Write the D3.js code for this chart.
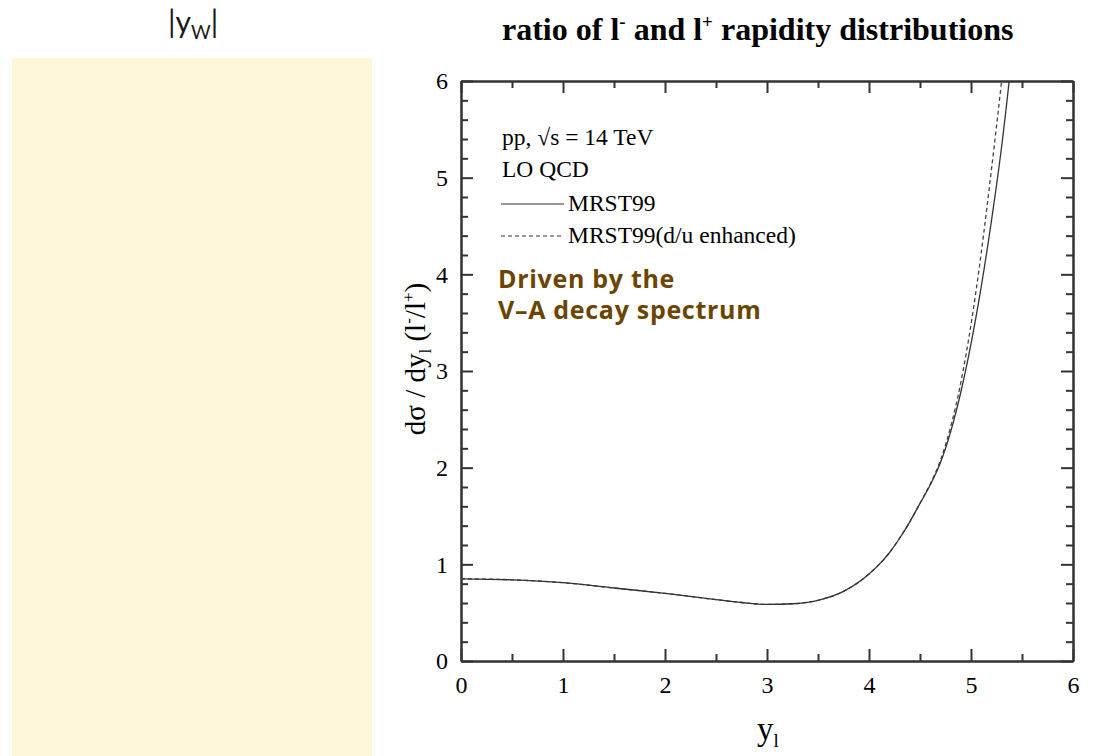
<!DOCTYPE html>
<html>
<head>
<meta charset="utf-8">
<script src="https://cdn.jsdelivr.net/npm/d3@7"></script>
<style>
  html, body { margin: 0; padding: 0; background: #ffffff; }
  svg { display: block; }
</style>
</head>
<body>
<svg id="chart" width="1111" height="756"></svg>
<script>
// ---- data ----
const rapidity = [0, 0.5, 1, 1.5, 2, 2.5, 2.75, 3, 3.25, 3.5, 3.75, 4, 4.1, 4.2, 4.3, 4.4, 4.5, 4.6, 4.7, 4.8, 4.9, 5.0, 5.1, 5.2, 5.3, 5.4, 5.5];
const mrst99 =   [0.85, 0.84, 0.81, 0.755, 0.70, 0.635, 0.605, 0.585, 0.592, 0.628, 0.72, 0.90, 1.00, 1.12, 1.27, 1.44, 1.63, 1.82, 2.05, 2.37, 2.78, 3.28, 3.87, 4.55, 5.32, 6.25, 7.30];
const mrst99du = [0.85, 0.84, 0.81, 0.755, 0.70, 0.635, 0.605, 0.585, 0.592, 0.628, 0.72, 0.90, 1.00, 1.12, 1.27, 1.44, 1.632, 1.832, 2.075, 2.42, 2.88, 3.48, 4.22, 5.08, 6.00, 7.00, 8.10];
const xTicks = [0, 1, 2, 3, 4, 5, 6];
const yTicks = [0, 1, 2, 3, 4, 5, 6];
const legendItems = ["MRST99", "MRST99(d/u enhanced)"];

const svg = d3.select("#chart");

// left yellow panel
svg.append("rect").attr("x", 12).attr("y", 58).attr("width", 360).attr("height", 700).attr("fill", "#fff6d8");

// |y_W| label
const yw = svg.append("text").attr("x", 168).attr("y", 33)
  .attr("font-family", "Lato, 'Open Sans', sans-serif").attr("font-size", 30).attr("fill", "#1a1a1a");
yw.append("tspan").text("|y");
yw.append("tspan").attr("dy", 6).attr("font-size", 19).text("W");
yw.append("tspan").attr("dy", -6).text("|");

// title
const title = svg.append("text").attr("x", 502).attr("y", 40)
  .attr("font-family", "'Liberation Serif', 'DejaVu Serif', serif").attr("font-weight", "bold")
  .attr("font-size", 32).attr("fill", "#000");
title.append("tspan").text("ratio of l");
title.append("tspan").attr("dy", -12).attr("font-size", 19).text("-");
title.append("tspan").attr("dy", 12).text(" and l");
title.append("tspan").attr("dy", -12).attr("font-size", 19).text("+");
title.append("tspan").attr("dy", 12).text(" rapidity distributions");

// plot geometry
const x0 = 461, x1 = 1073, y0 = 661, y1 = 81;
const x = d3.scaleLinear().domain([0, 6]).range([x0, x1]);
const y = d3.scaleLinear().domain([0, 6]).range([y0, y1]);

const serif = "'Liberation Serif', 'Times New Roman', serif";
const axisColor = "#333";

function styleAxis(g, labels) {
  g.select(".domain").attr("stroke", axisColor).attr("stroke-width", 2);
  g.selectAll(".tick line").attr("stroke", axisColor).attr("stroke-width", 2);
  g.selectAll(".tick text").attr("font-family", serif).attr("font-size", 24).attr("fill", "#000");
  if (!labels) g.selectAll(".tick text").remove();
}

const xMinor = d3.range(0.5, 6, 1);
const yMinor = d3.range(0, 6.01, 0.2).filter(v => Math.abs(v - Math.round(v)) > 1e-6);

// minor ticks
[[d3.axisBottom(x), y0], [d3.axisTop(x), y1]].forEach(([a, ty]) => {
  svg.append("g").attr("transform", `translate(0,${ty})`)
    .call(a.tickValues(xMinor).tickSizeInner(-7).tickSizeOuter(0).tickFormat(""))
    .call(g => styleAxis(g, false));
});
[[d3.axisLeft(y), x0], [d3.axisRight(y), x1]].forEach(([a, tx]) => {
  svg.append("g").attr("transform", `translate(${tx},0)`)
    .call(a.tickValues(yMinor).tickSizeInner(-7).tickSizeOuter(0).tickFormat(""))
    .call(g => styleAxis(g, false));
});

// major ticks
svg.append("g").attr("transform", `translate(0,${y0})`)
  .call(d3.axisBottom(x).tickValues(xTicks).tickSizeInner(-12).tickSizeOuter(0).tickPadding(15).tickFormat(d3.format("d")))
  .call(g => styleAxis(g, true));
svg.append("g").attr("transform", `translate(0,${y1})`)
  .call(d3.axisTop(x).tickValues(xTicks).tickSizeInner(-12).tickSizeOuter(0).tickFormat(""))
  .call(g => styleAxis(g, false));
svg.append("g").attr("transform", `translate(${x0},0)`)
  .call(d3.axisLeft(y).tickValues(yTicks).tickSizeInner(-12).tickSizeOuter(0).tickPadding(13).tickFormat(d3.format("d")))
  .call(g => styleAxis(g, true));
svg.append("g").attr("transform", `translate(${x1},0)`)
  .call(d3.axisRight(y).tickValues(yTicks).tickSizeInner(-12).tickSizeOuter(0).tickFormat(""))
  .call(g => styleAxis(g, false));

// clip
svg.append("clipPath").attr("id", "plotclip").append("rect")
  .attr("x", x0).attr("y", y1).attr("width", x1 - x0).attr("height", y0 - y1);

const line = d3.line().x(d => x(d[0])).y(d => y(d[1])).curve(d3.curveMonotoneX);
const plot = svg.append("g").attr("clip-path", "url(#plotclip)");
plot.append("path").datum(rapidity.map((r, i) => [r, mrst99du[i]]))
  .attr("d", line).attr("fill", "none").attr("stroke", "#444").attr("stroke-width", 1.3)
  .attr("stroke-dasharray", "4,3");
plot.append("path").datum(rapidity.map((r, i) => [r, mrst99[i]]))
  .attr("d", line).attr("fill", "none").attr("stroke", "#333").attr("stroke-width", 1.3);

// legend text
const legFont = 23.5;
svg.append("text").attr("x", 502).attr("y", 145).attr("font-family", serif).attr("font-size", legFont).text("pp, √s = 14 TeV");
svg.append("text").attr("x", 502).attr("y", 177).attr("font-family", serif).attr("font-size", legFont).text("LO QCD");
const legY = [204, 236];
legendItems.forEach((name, i) => {
  svg.append("line").attr("x1", 501).attr("x2", 564).attr("y1", legY[i]).attr("y2", legY[i])
    .attr("stroke", "#333").attr("stroke-width", 1.2).attr("stroke-dasharray", i === 1 ? "4,3" : null);
  svg.append("text").attr("x", 568).attr("y", legY[i] + 7).attr("font-family", serif).attr("font-size", legFont).text(name);
});

// annotation
const annFont = "'Open Sans', Lato, sans-serif";
svg.append("text").attr("x", 498).attr("y", 288).attr("font-family", annFont).attr("font-weight", "bold")
  .attr("font-size", 25).attr("letter-spacing", 0.7).attr("fill", "#6b4500").text("Driven by the");
svg.append("text").attr("x", 498).attr("y", 319).attr("font-family", annFont).attr("font-weight", "bold")
  .attr("font-size", 25).attr("letter-spacing", 0.7).attr("fill", "#6b4500").text("V–A decay spectrum");

// y axis label
const yl = svg.append("text").attr("transform", "translate(425,359) rotate(-90)")
  .attr("text-anchor", "middle").attr("font-family", serif).attr("font-size", 29).attr("fill", "#000");
yl.append("tspan").text("dσ / dy");
yl.append("tspan").attr("dy", 6).attr("font-size", 17).text("l");
yl.append("tspan").attr("dy", -6).text(" (l");
yl.append("tspan").attr("dy", -11).attr("font-size", 17).text("-");
yl.append("tspan").attr("dy", 11).text("/l");
yl.append("tspan").attr("dy", -11).attr("font-size", 17).text("+");
yl.append("tspan").attr("dy", 11).text(")");

// x axis label
const xl = svg.append("text").attr("x", 757).attr("y", 740).attr("font-family", serif).attr("font-size", 33);
xl.append("tspan").text("y");
xl.append("tspan").attr("dy", 7).attr("font-size", 19).text("l");
</script>
</body>
</html>
